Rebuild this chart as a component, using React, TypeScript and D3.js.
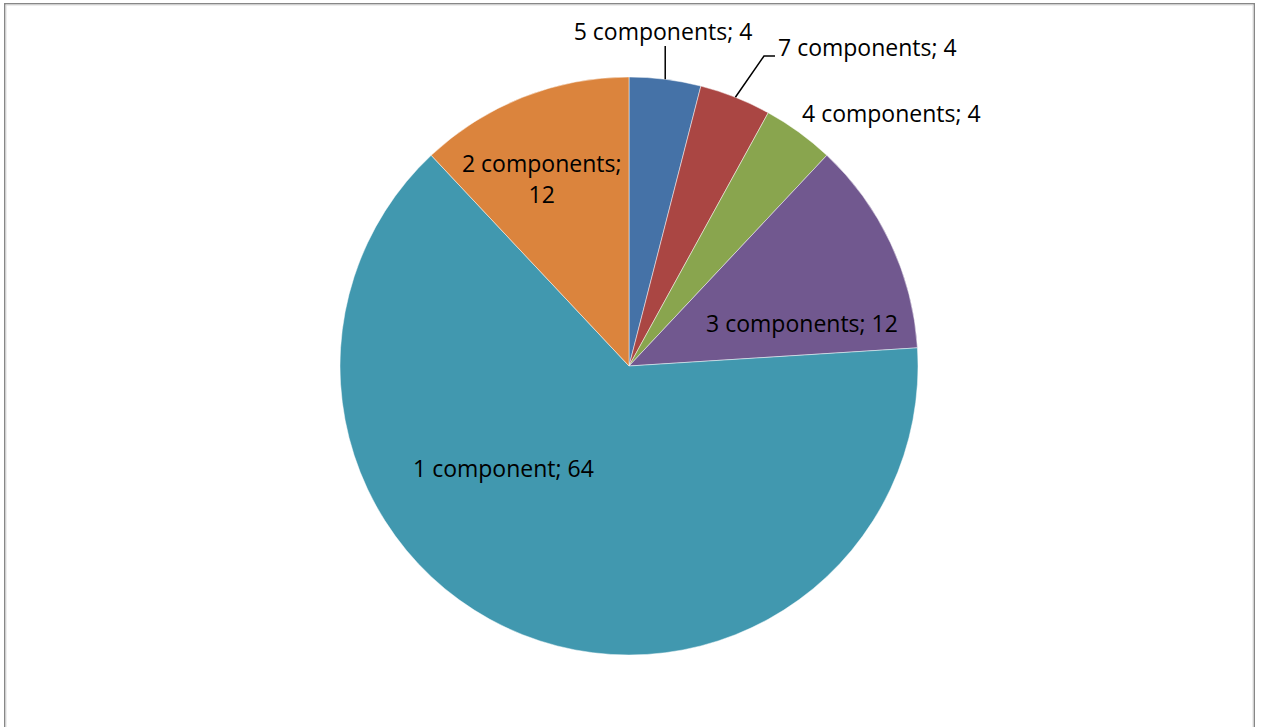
import React from "react";
import * as d3 from "d3";

const categories = ["5 components", "7 components", "4 components", "3 components", "1 component", "2 components"];
const values = [4, 4, 4, 12, 64, 12];
const colors = ["#4572A7", "#AA4643", "#89A54E", "#71588F", "#4198AF", "#DB843D"];

// label layout relative to pie centre (px) — placement only
const labelLayout = [
  { dx: 34, dy: -326, anchor: "middle", leader: "vertical" },
  { dx: 149, dy: -310, anchor: "start", leader: "elbow" },
  { dx: 173, dy: -244.5, anchor: "start", leader: "none" },
  { dx: 173, dy: -34.3, anchor: "middle", leader: "none" },
  { dx: -125.6, dy: 110.7, anchor: "middle", leader: "none" },
  { dx: -87.3, dy: -194.3, anchor: "middle", leader: "none", wrap: true },
];

const W = 1262;
const H = 727;
const cx = 629;
const cy = 366;
const R = 289;
const FONT = "'Open Sans', sans-serif";
const FS = 23;

export default function App() {
  const pie = d3.pie<number>().value((d) => d).sort(null).startAngle(0).endAngle(2 * Math.PI);
  const arcs = pie(values);
  const arcGen = d3.arc<d3.PieArcDatum<number>>().innerRadius(0).outerRadius(R);

  return (
    <svg
      width={W}
      height={H}
      style={{ position: "absolute", left: 0, top: 0, background: "#fff" }}
    >
      <rect x={4.75} y={3.75} width={1249.5} height={800} fill="#fff" stroke="#878787" strokeWidth={1.5} />
      <rect x={6} y={5} width={1247} height={800} fill="none" stroke="#dcdcdc" strokeWidth={1} />
      <g transform={`translate(${cx},${cy})`}>
        {arcs.map((a, i) => (
          <path key={i} d={arcGen(a) || ""} fill={colors[i]} stroke="#ffffff" strokeOpacity={0.6} strokeWidth={0.8} />
        ))}
        {arcs.map((a, i) => {
          const L = labelLayout[i];
          const mid = (a.startAngle + a.endAngle) / 2;
          const px = R * Math.sin(mid);
          const py = -R * Math.cos(mid);
          const text = `${categories[i]}; ${values[i]}`;
          let leader = null;
          if (L.leader === "vertical") {
            leader = <line x1={px} y1={py} x2={px} y2={L.dy + 6} stroke="#000" strokeWidth={1.5} />;
          } else if (L.leader === "elbow") {
            leader = (
              <polyline
                points={`${px},${py} ${L.dx - 14},${L.dy} ${L.dx - 3},${L.dy}`}
                fill="none"
                stroke="#000"
                strokeWidth={1.5}
              />
            );
          }
          return (
            <g key={"l" + i}>
              {leader}
              {L.wrap ? (
                <text fontFamily={FONT} fontSize={FS} fill="#000" textAnchor={L.anchor}>
                  <tspan x={L.dx} y={L.dy}>{`${categories[i]};`}</tspan>
                  <tspan x={L.dx} y={L.dy + 31.6}>{`${values[i]}`}</tspan>
                </text>
              ) : (
                <text x={L.dx} y={L.dy} fontFamily={FONT} fontSize={FS} fill="#000" textAnchor={L.anchor}>
                  {text}
                </text>
              )}
            </g>
          );
        })}
      </g>
    </svg>
  );
}
